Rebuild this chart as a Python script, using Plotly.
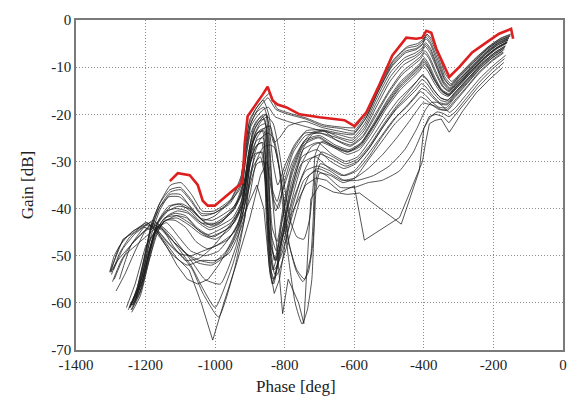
import plotly.graph_objects as go

# ---- frequency-response curves (phase [deg], gain [dB]), low frequency first ----
phase_e1 = [-150, -178, -212, -252, -292, -320, -338, -356, -376, -391, -401, -418, -447, -487, -527, -562, -598, -640, -690, -738, -785, -822, -843, -858, -880, -900, -912, -925, -955, -1002, -1037, -1068, -1098, -1128, -1157, -1182, -1203, -1223, -1242]
gain_e1 = [-3.0, -3.8, -5.5, -8.1, -11.1, -13.0, -11.5, -7.5, -4.2, -3.0, -4.0, -5.0, -5.6, -8.4, -13.5, -19.0, -22.8, -22.7, -22.2, -20.8, -19.8, -18.8, -15.5, -16.5, -18.5, -21.0, -26.0, -33.0, -38.0, -40.5, -40.5, -37.0, -34.5, -35.0, -38.5, -43.0, -50.0, -56.5, -60.5]

phase_a1 = [-152, -180, -215, -255, -295, -322, -340, -358, -378, -393, -403, -420, -450, -490, -530, -565, -600, -640, -690, -740, -790, -825, -848, -862, -882, -900, -914, -928, -958, -1005, -1040, -1070, -1100, -1130, -1160, -1185, -1205, -1225, -1245]
gain_a1 = [-3.2, -4.0, -5.8, -8.5, -11.5, -13.5, -12.0, -8.0, -4.5, -3.2, -4.5, -5.5, -6.0, -9.0, -14.5, -20.0, -23.5, -23.0, -22.5, -21.0, -20.0, -19.0, -16.5, -17.5, -19.5, -22.5, -28.0, -35.0, -39.0, -41.0, -41.0, -38.0, -35.5, -36.0, -39.0, -44.0, -51.0, -57.0, -61.0]

phase_f1 = [-151, -182, -217, -256, -296, -323, -341, -359, -379, -394, -404, -421, -452, -492, -532, -567, -602, -642, -692, -742, -790, -815, -832, -846, -862, -884, -902, -914, -927, -957, -1003, -1038, -1069, -1099, -1129, -1158, -1184, -1204, -1224, -1244]
gain_f1 = [-3.4, -4.3, -6.1, -8.8, -11.8, -13.8, -12.4, -8.6, -5.0, -3.6, -5.0, -6.0, -6.6, -9.6, -15.2, -20.8, -24.0, -23.6, -22.8, -21.5, -22.5, -25.0, -26.0, -20.0, -17.0, -19.0, -22.0, -27.0, -34.0, -38.5, -41.0, -41.5, -38.5, -36.0, -36.5, -39.5, -44.5, -51.5, -57.5, -61.0]

phase_e2 = [-154, -183, -218, -257, -297, -324, -342, -361, -380, -394, -405, -423, -453, -493, -533, -568, -603, -645, -693, -738, -772, -800, -820, -834, -846, -860, -880, -898, -912, -930, -1000, -1035, -1068, -1100, -1130, -1160, -1185, -1205, -1228]
gain_e2 = [-3.5, -4.4, -6.2, -9.0, -12.0, -14.0, -12.5, -9.0, -5.3, -4.0, -5.3, -6.3, -7.0, -10.0, -15.5, -21.0, -24.3, -24.0, -23.3, -23.5, -26.5, -31.0, -35.0, -30.0, -22.0, -18.5, -19.5, -22.0, -28.0, -36.0, -41.5, -42.5, -40.0, -37.0, -37.0, -40.5, -46.0, -53.0, -59.0]

phase_a2 = [-155, -185, -220, -258, -298, -325, -343, -362, -381, -395, -406, -425, -455, -495, -535, -570, -605, -645, -695, -745, -792, -828, -847, -862, -880, -897, -910, -922, -945, -1008, -1042, -1072, -1103, -1133, -1162, -1187, -1207, -1227, -1250]
gain_a2 = [-3.7, -4.7, -6.6, -9.4, -12.4, -14.4, -13.0, -9.6, -6.0, -4.8, -6.0, -7.0, -8.0, -11.0, -16.5, -22.0, -25.0, -24.3, -23.5, -22.5, -21.5, -20.5, -18.5, -19.0, -20.5, -22.5, -28.0, -35.0, -39.5, -42.5, -42.0, -39.5, -37.5, -37.5, -40.0, -45.0, -52.0, -58.0, -61.5]

phase_f2 = [-156, -186, -221, -259, -298, -325, -343, -362, -381, -395, -407, -426, -456, -496, -536, -571, -606, -646, -685, -720, -745, -770, -795, -815, -830, -840, -848, -858, -874, -892, -906, -918, -948, -990, -1030, -1062, -1095, -1127, -1157, -1184, -1205, -1232, -1265, -1292]
gain_f2 = [-3.9, -4.9, -6.9, -9.7, -12.7, -14.6, -13.3, -10.0, -6.5, -5.2, -6.5, -7.6, -8.6, -12.0, -17.5, -22.8, -25.5, -24.8, -23.5, -24.2, -27.0, -33.0, -41.0, -47.0, -51.0, -44.0, -30.0, -21.0, -21.5, -24.0, -29.0, -36.0, -40.5, -43.0, -43.0, -40.5, -39.0, -39.5, -42.0, -44.5, -44.0, -45.5, -48.5, -53.0]

phase_e3 = [-157, -187, -222, -260, -299, -326, -344, -363, -382, -396, -408, -428, -458, -497, -537, -572, -607, -648, -696, -742, -776, -803, -822, -835, -845, -855, -870, -890, -905, -925, -982, -1016, -1050, -1082, -1112, -1140, -1168, -1190, -1212, -1236]
gain_e3 = [-4.0, -5.0, -7.0, -9.8, -12.8, -14.8, -13.5, -10.2, -7.0, -5.6, -7.0, -8.2, -9.5, -13.0, -18.5, -23.5, -26.0, -25.0, -24.0, -24.0, -27.5, -33.0, -38.5, -36.0, -27.0, -20.0, -20.5, -23.0, -29.0, -37.0, -43.0, -44.0, -42.5, -40.5, -40.0, -40.5, -43.5, -49.5, -56.0, -60.5]

phase_a3 = [-158, -188, -224, -262, -300, -327, -345, -365, -384, -397, -410, -430, -462, -500, -540, -575, -610, -650, -698, -740, -775, -800, -818, -832, -842, -852, -868, -885, -900, -915, -945, -1012, -1045, -1075, -1105, -1135, -1163, -1188, -1208, -1230]
gain_a3 = [-4.2, -5.3, -7.3, -10.2, -13.2, -15.0, -14.0, -11.0, -7.8, -6.5, -7.8, -9.0, -11.0, -15.0, -20.0, -24.5, -26.5, -25.5, -24.0, -24.5, -28.0, -34.0, -40.0, -38.0, -28.0, -20.0, -21.0, -23.0, -27.0, -34.0, -40.0, -43.5, -42.0, -40.0, -39.5, -40.5, -43.0, -49.0, -55.0, -59.5]

phase_f6 = [-158, -189, -225, -263, -301, -327, -346, -366, -385, -398, -410, -431, -463, -502, -542, -577, -612, -652, -688, -720, -752, -780, -805, -826, -842, -852, -864, -882, -900, -913, -926, -955, -1000, -1040, -1072, -1104, -1134, -1163, -1188, -1208, -1232]
gain_f6 = [-4.3, -5.4, -7.5, -10.4, -13.4, -15.2, -14.2, -11.4, -8.2, -7.0, -8.3, -9.6, -11.6, -15.6, -20.8, -25.0, -26.8, -25.5, -23.5, -23.8, -26.5, -30.5, -36.0, -40.5, -33.0, -23.0, -20.5, -21.5, -24.5, -30.0, -37.0, -41.0, -43.5, -43.0, -40.5, -39.0, -39.5, -42.5, -48.5, -55.0, -60.0]

phase_a4 = [-160, -190, -226, -265, -303, -328, -348, -368, -387, -399, -412, -433, -466, -505, -545, -580, -615, -655, -700, -742, -778, -805, -822, -836, -847, -856, -872, -890, -906, -922, -950, -1015, -1048, -1078, -1108, -1137, -1165, -1190, -1212, -1238]
gain_a4 = [-4.6, -5.8, -7.9, -10.8, -13.8, -15.6, -14.8, -12.2, -9.2, -8.0, -9.3, -10.8, -13.0, -17.0, -22.0, -26.0, -27.5, -26.5, -24.5, -25.5, -31.0, -40.0, -47.0, -44.0, -32.0, -22.0, -22.5, -25.0, -31.0, -38.0, -42.0, -44.5, -43.0, -41.0, -40.5, -41.5, -45.0, -51.0, -57.0, -60.5]

phase_b3 = [-160, -190, -226, -265, -303, -328, -348, -368, -387, -400, -414, -436, -470, -510, -550, -585, -620, -660, -695, -712, -718, -728, -745, -765, -782, -795, -805, -818, -833, -850, -868, -885, -900, -915, -945, -1005, -1040, -1075, -1110, -1145, -1175, -1198, -1222, -1248]
gain_b3 = [-4.8, -6.0, -8.2, -11.2, -14.2, -16.0, -15.2, -13.0, -10.3, -9.3, -10.5, -12.0, -14.5, -18.5, -23.0, -26.5, -28.0, -27.0, -26.0, -28.5, -35.0, -42.0, -46.5, -46.0, -43.0, -38.0, -33.0, -27.0, -22.0, -20.5, -21.5, -24.0, -30.0, -38.0, -43.0, -46.0, -45.0, -43.0, -41.5, -42.0, -45.5, -51.5, -57.5, -61.0]

phase_f3 = [-161, -191, -227, -266, -304, -329, -349, -369, -388, -400, -413, -434, -467, -506, -546, -581, -616, -656, -690, -722, -748, -772, -796, -818, -834, -845, -853, -864, -880, -898, -912, -928, -960, -1000, -1040, -1075, -1110, -1142, -1170, -1194, -1216, -1240]
gain_f3 = [-4.7, -5.9, -8.0, -11.0, -14.0, -15.8, -14.9, -12.5, -9.6, -8.4, -9.7, -11.2, -13.5, -17.5, -22.5, -26.4, -27.8, -26.8, -25.8, -26.8, -30.0, -36.0, -43.0, -49.0, -53.0, -46.0, -33.0, -23.5, -24.0, -27.0, -33.0, -40.0, -44.5, -46.5, -45.5, -43.5, -42.0, -42.5, -45.0, -51.5, -58.0, -61.5]

phase_e4 = [-162, -192, -228, -267, -305, -329, -349, -369, -388, -400, -413, -435, -468, -507, -547, -582, -618, -658, -702, -744, -779, -806, -824, -837, -848, -858, -874, -892, -907, -922, -955, -1020, -1053, -1085, -1115, -1145, -1172, -1195, -1218, -1242]
gain_e4 = [-4.8, -6.0, -8.2, -11.1, -14.1, -15.9, -15.0, -12.8, -10.0, -8.8, -10.0, -11.6, -14.0, -18.0, -23.0, -26.8, -28.0, -26.8, -24.8, -26.0, -32.0, -41.5, -49.0, -46.0, -33.5, -23.0, -23.5, -26.0, -32.0, -39.0, -43.0, -45.5, -44.0, -41.5, -41.0, -42.0, -45.0, -51.5, -58.0, -61.5]

phase_a5 = [-163, -193, -229, -268, -306, -330, -350, -370, -389, -401, -415, -437, -470, -510, -550, -585, -620, -660, -703, -745, -780, -808, -826, -838, -849, -860, -878, -896, -910, -925, -958, -1018, -1050, -1082, -1112, -1140, -1168, -1192, -1215, -1260, -1290]
gain_a5 = [-5.0, -6.3, -8.5, -11.5, -14.5, -16.2, -15.5, -13.4, -10.8, -9.8, -11.0, -12.6, -15.0, -19.0, -24.0, -27.5, -28.5, -27.0, -25.0, -26.5, -33.0, -43.0, -51.0, -48.0, -35.0, -23.5, -24.0, -27.0, -33.0, -40.0, -44.0, -46.0, -44.5, -42.0, -41.5, -42.5, -44.0, -45.5, -47.0, -50.0, -55.0]

phase_b1 = [-165, -196, -233, -272, -310, -332, -352, -372, -392, -405, -420, -442, -476, -515, -555, -590, -625, -662, -695, -712, -718, -725, -743, -765, -790, -800, -812, -828, -842, -860, -880, -898, -915, -945, -1000, -1035, -1070, -1105, -1140, -1172, -1200, -1240, -1275, -1300]
gain_b1 = [-5.5, -6.9, -9.2, -12.3, -15.3, -17.0, -16.5, -14.8, -12.6, -11.8, -13.0, -15.0, -18.0, -22.0, -26.5, -29.5, -30.5, -29.0, -28.0, -32.0, -42.0, -50.0, -55.0, -53.0, -47.0, -40.0, -33.0, -27.0, -22.5, -23.0, -25.0, -30.0, -38.0, -45.0, -48.0, -49.0, -50.0, -49.5, -47.0, -44.0, -43.5, -45.0, -48.0, -53.5]

phase_a6 = [-166, -196, -232, -271, -308, -331, -352, -372, -391, -404, -418, -440, -474, -514, -554, -590, -625, -664, -705, -747, -782, -810, -828, -839, -850, -862, -880, -898, -912, -928, -962, -1022, -1055, -1085, -1115, -1143, -1170, -1193, -1215, -1240]
gain_a6 = [-5.5, -6.9, -9.1, -12.2, -15.2, -17.0, -16.5, -14.8, -12.5, -11.6, -12.8, -14.5, -17.0, -21.0, -25.5, -29.0, -30.0, -28.5, -26.0, -27.5, -35.0, -46.0, -54.0, -51.0, -38.0, -25.0, -25.5, -28.5, -35.0, -42.0, -46.5, -48.5, -47.0, -44.0, -42.5, -42.5, -45.5, -52.0, -58.5, -62.0]

phase_f4 = [-167, -197, -234, -273, -310, -332, -353, -373, -392, -405, -420, -443, -477, -516, -556, -591, -626, -664, -697, -725, -750, -775, -800, -820, -836, -846, -855, -866, -884, -902, -918, -935, -968, -1005, -1045, -1085, -1120, -1155, -1185, -1210, -1245, -1275, -1298]
gain_f4 = [-5.8, -7.2, -9.5, -12.6, -15.6, -17.4, -17.0, -15.4, -13.4, -12.6, -13.9, -15.8, -18.5, -22.5, -27.0, -30.0, -31.0, -29.5, -28.5, -29.5, -33.0, -39.0, -46.0, -52.0, -56.0, -49.0, -36.0, -26.0, -27.0, -31.0, -38.0, -44.0, -49.0, -51.5, -51.0, -49.5, -47.0, -44.5, -43.0, -44.0, -46.0, -49.5, -54.0]

phase_b2 = [-168, -198, -235, -274, -311, -333, -353, -374, -393, -406, -421, -444, -478, -518, -558, -593, -628, -666, -698, -712, -716, -722, -735, -750, -770, -790, -805, -818, -832, -848, -868, -885, -900, -915, -950, -1000, -1035, -1070, -1105, -1140, -1170, -1195, -1230, -1260, -1285]
gain_b2 = [-6.2, -7.7, -10.0, -13.2, -16.2, -18.0, -17.8, -16.5, -15.0, -14.5, -15.8, -17.8, -20.5, -24.5, -29.0, -32.0, -33.0, -31.5, -30.5, -35.0, -45.0, -55.0, -61.5, -64.5, -60.0, -50.0, -40.0, -30.0, -25.0, -24.0, -25.0, -28.0, -34.0, -42.0, -52.0, -61.0, -57.0, -52.0, -48.5, -45.0, -43.0, -44.0, -49.0, -54.0, -57.5]

phase_a7 = [-170, -200, -236, -275, -312, -333, -355, -375, -394, -407, -422, -445, -480, -520, -560, -596, -630, -668, -708, -750, -785, -812, -830, -840, -851, -862, -880, -898, -912, -940, -985, -1030, -1060, -1090, -1120, -1150, -1178, -1200, -1240, -1275]
gain_a7 = [-6.0, -7.5, -9.8, -13.0, -16.0, -17.8, -17.5, -16.0, -14.2, -13.5, -14.8, -16.5, -19.0, -23.0, -27.5, -30.5, -31.5, -30.0, -27.5, -29.0, -37.0, -48.0, -55.0, -53.0, -40.0, -26.0, -26.5, -30.0, -38.0, -48.0, -56.0, -55.0, -52.0, -49.0, -47.0, -44.5, -43.5, -44.5, -47.5, -55.0]

phase_f5 = [-171, -203, -240, -279, -313, -332, -350, -370, -390, -403, -418, -442, -478, -518, -560, -598, -635, -672, -705, -730, -752, -775, -798, -818, -834, -846, -856, -870, -890, -912, -935, -970, -1010, -1050, -1090, -1128, -1160, -1188, -1212, -1238]
gain_f5 = [-7.0, -8.7, -11.2, -14.6, -17.6, -19.2, -19.0, -18.2, -17.8, -17.6, -19.0, -21.5, -25.0, -28.5, -31.5, -33.5, -34.0, -32.5, -31.5, -33.0, -37.0, -43.0, -49.0, -53.5, -55.0, -47.0, -34.0, -29.0, -31.0, -38.0, -45.0, -50.0, -52.0, -51.5, -49.0, -45.5, -43.5, -47.0, -55.0, -60.5]

phase_b4 = [-172, -202, -238, -277, -313, -334, -356, -377, -396, -409, -424, -448, -483, -523, -563, -598, -632, -668, -700, -710, -714, -720, -732, -748, -768, -787, -800, -814, -830, -843, -862, -882, -900, -925, -960, -1000, -1040, -1080, -1120, -1160, -1195, -1230, -1262, -1290, -1303]
gain_b4 = [-6.8, -8.4, -10.8, -14.2, -17.2, -19.0, -19.0, -18.0, -16.8, -16.3, -17.5, -19.5, -22.0, -26.0, -30.0, -33.5, -34.5, -33.0, -32.5, -36.0, -42.0, -48.0, -53.5, -55.5, -53.0, -47.5, -40.0, -32.0, -27.0, -26.5, -27.0, -30.0, -37.0, -44.0, -49.5, -51.0, -51.0, -52.0, -50.0, -46.0, -43.0, -44.5, -46.5, -50.0, -53.5]

phase_a8 = [-174, -204, -240, -279, -315, -335, -357, -378, -397, -410, -426, -450, -486, -526, -566, -600, -635, -672, -712, -752, -788, -815, -832, -842, -853, -864, -882, -900, -915, -945, -990, -1035, -1065, -1095, -1125, -1155, -1182, -1205, -1245, -1280, -1300]
gain_a8 = [-6.6, -8.1, -10.5, -13.8, -16.8, -18.6, -18.5, -17.3, -15.8, -15.2, -16.5, -18.5, -21.0, -25.0, -29.0, -32.0, -33.0, -31.5, -29.0, -30.5, -39.0, -50.0, -56.0, -54.0, -42.0, -28.0, -28.5, -33.0, -42.0, -53.0, -63.0, -58.0, -53.0, -50.0, -48.0, -45.5, -44.0, -45.0, -48.0, -51.0, -53.5]

phase_d2 = [-165, -198, -238, -278, -308, -326, -343, -360, -378, -395, -420, -455, -500, -545, -590, -630, -670, -705, -740, -775, -805, -825, -840, -853, -868, -888, -905, -935, -1005, -1045, -1085, -1120, -1150, -1178, -1205, -1235, -1270, -1295]
gain_d2 = [-7.5, -9.5, -12.3, -15.8, -18.5, -19.6, -18.5, -17.5, -17.5, -19.0, -23.0, -27.5, -31.0, -33.0, -34.0, -34.0, -32.0, -31.0, -32.0, -38.0, -46.0, -51.0, -48.0, -35.0, -28.0, -28.5, -32.0, -41.0, -48.0, -50.5, -51.0, -48.0, -44.5, -42.5, -44.0, -47.0, -51.0, -55.5]

phase_d1 = [-168, -200, -240, -280, -310, -328, -345, -362, -380, -400, -430, -470, -520, -560, -600, -640, -680, -710, -745, -780, -810, -830, -845, -860, -880, -900, -930, -990, -1030, -1070, -1105, -1140, -1170, -1195, -1220, -1245]
gain_d1 = [-8.2, -10.2, -13.2, -16.8, -19.5, -20.5, -19.8, -19.5, -20.5, -23.0, -28.0, -32.0, -34.0, -34.5, -35.5, -35.5, -33.0, -32.0, -34.0, -42.0, -50.0, -53.0, -45.0, -30.0, -30.5, -35.0, -43.0, -49.0, -50.0, -49.0, -46.0, -43.0, -44.5, -50.0, -56.5, -60.5]

# sparsely sampled responses (drawn straight, segment to segment)
phase_c1 = [-175, -210, -250, -290, -315, -327, -338, -350, -368, -384, -395, -404, -470, -571, -600, -640, -680, -710, -740, -780, -800, -815, -830, -845, -860, -880, -910, -950, -990, -1020, -1050, -1080, -1110, -1140, -1170, -1200, -1230, -1255]
gain_c1 = [-10.2, -12.5, -15.5, -19.5, -22.5, -23.8, -22.5, -21.0, -21.3, -22.0, -26.0, -30.0, -41.9, -46.7, -35.2, -36.5, -34.0, -33.5, -35.0, -41.0, -48.0, -55.0, -58.0, -52.0, -40.0, -35.0, -40.0, -47.0, -52.0, -55.0, -56.0, -55.0, -52.0, -48.0, -44.5, -48.0, -56.0, -61.0]

phase_c2 = [-170, -205, -245, -285, -312, -328, -345, -365, -385, -400, -413, -465, -585, -620, -660, -700, -725, -735, -745, -760, -790, -806, -820, -835, -850, -870, -900, -940, -975, -1007, -1040, -1075, -1110, -1145, -1175, -1200, -1232, -1265, -1302]
gain_c2 = [-9.0, -11.3, -14.3, -18.0, -20.5, -21.8, -20.5, -20.0, -20.5, -23.0, -31.9, -43.3, -36.7, -37.0, -36.5, -35.0, -38.0, -50.0, -64.4, -60.0, -55.0, -62.3, -50.0, -38.0, -30.0, -33.0, -42.0, -52.0, -60.0, -67.9, -60.0, -53.0, -50.5, -47.0, -44.0, -42.9, -45.0, -46.5, -53.3]

# upper bound of the family of responses
envelope_phase = [-1130.3, -1107.4, -1073.0, -1050.0, -1035.7, -1021.3, -1001.2, -981.1, -949.6, -923.8, -918.0, -915.2, -906.6, -892.2, -863.5, -849.2, -834.8, -820.5, -794.7, -757.4, -700.0, -628.3, -599.6, -565.2, -527.9, -490.6, -450.4, -421.7, -404.5, -393.0, -378.7, -364.3, -327.0, -298.4, -261.1, -220.9, -183.6, -149.2, -143.4]
envelope_gain = [-34.17, -32.5, -32.92, -35.0, -38.33, -39.38, -39.38, -38.13, -36.25, -34.58, -30.42, -26.25, -20.42, -18.96, -15.83, -14.17, -17.08, -17.92, -18.54, -20.0, -20.63, -21.25, -22.5, -19.58, -13.75, -7.5, -3.75, -3.96, -3.75, -2.29, -2.71, -6.04, -12.08, -10.0, -6.88, -4.79, -2.92, -1.88, -3.96]

phase_ticks = [-1400, -1200, -1000, -800, -600, -400, -200, 0]
gain_ticks = [-70, -60, -50, -40, -30, -20, -10, 0]

smooth_curves = [
    (phase_e1, gain_e1), (phase_a1, gain_a1), (phase_f1, gain_f1), (phase_e2, gain_e2),
    (phase_a2, gain_a2), (phase_f2, gain_f2), (phase_e3, gain_e3), (phase_a3, gain_a3),
    (phase_f6, gain_f6), (phase_a4, gain_a4), (phase_b3, gain_b3), (phase_f3, gain_f3),
    (phase_e4, gain_e4), (phase_a5, gain_a5), (phase_b1, gain_b1), (phase_a6, gain_a6),
    (phase_f4, gain_f4), (phase_b2, gain_b2), (phase_a7, gain_a7), (phase_f5, gain_f5),
    (phase_b4, gain_b4), (phase_a8, gain_a8), (phase_d2, gain_d2), (phase_d1, gain_d1),
]
straight_curves = [(phase_c1, gain_c1), (phase_c2, gain_c2)]

SERIF = "Liberation Serif, Times New Roman, serif"
INK = "#1c1c1c"

fig = go.Figure()
for ph, g in smooth_curves:
    fig.add_trace(go.Scatter(
        x=ph, y=g, mode="lines", hoverinfo="skip", showlegend=False,
        line=dict(color=INK, width=0.75, shape="spline", smoothing=0.5),
    ))
for ph, g in straight_curves:
    fig.add_trace(go.Scatter(
        x=ph, y=g, mode="lines", hoverinfo="skip", showlegend=False,
        line=dict(color=INK, width=0.75),
    ))
fig.add_trace(go.Scatter(
    x=envelope_phase, y=envelope_gain, mode="lines", hoverinfo="skip", showlegend=False,
    line=dict(color="#dd1f1f", width=2.6),
))

axis_common = dict(
    showgrid=True, gridcolor="#8c8c8c", gridwidth=1, griddash="1px,2px",
    zeroline=False, showline=True, linecolor="#7a7a7a", linewidth=1.5, mirror=True,
    ticks="", tickfont=dict(family=SERIF, size=15, color="#222"),
)

fig.update_layout(
    width=579, height=401,
    margin=dict(l=76, r=16, t=14, b=51),
    paper_bgcolor="white", plot_bgcolor="white",
    font=dict(family=SERIF, color="#222"),
    xaxis=dict(range=[-1400, 0], tickvals=phase_ticks,
               ticktext=[str(v) for v in phase_ticks], **axis_common),
    yaxis=dict(range=[-70, 0], tickvals=gain_ticks,
               ticktext=[str(v) for v in gain_ticks], **axis_common),
    annotations=[
        dict(text="Phase [deg]", xref="paper", yref="paper", x=0.452, y=-0.110,
             xanchor="center", yanchor="middle", showarrow=False,
             font=dict(family=SERIF, size=17, color="#222")),
        dict(text="Gain [dB]", xref="paper", yref="paper", x=-0.10, y=0.50,
             xanchor="center", yanchor="middle", showarrow=False, textangle=-90,
             font=dict(family=SERIF, size=17, color="#222")),
    ],
)

fig.write_html("out.html")
